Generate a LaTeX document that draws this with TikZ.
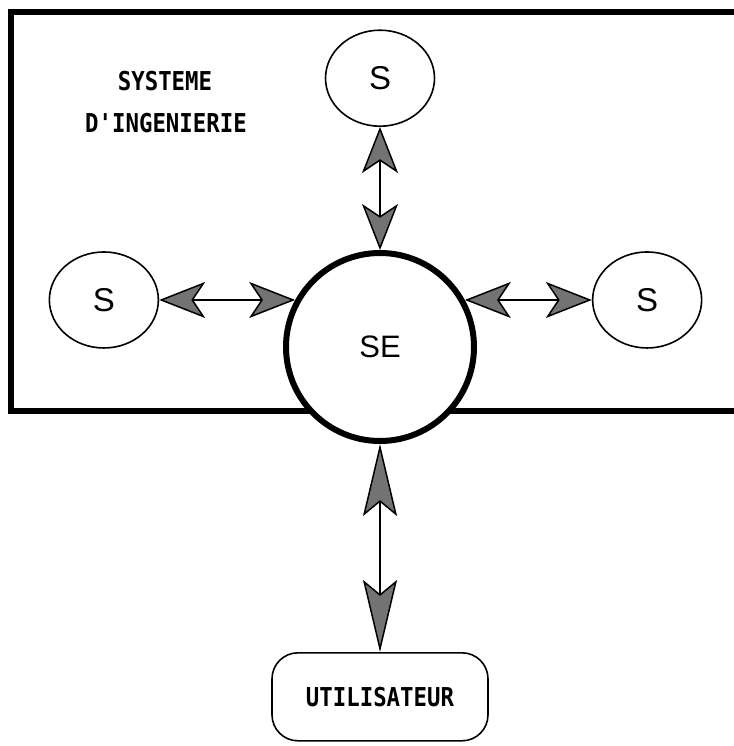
\documentclass[tikz,border=0pt]{standalone}
\usepackage{fontspec}
\usepackage{graphicx}
\setsansfont{Liberation Sans}
\setmonofont{DejaVu Sans Mono}
\usetikzlibrary{shapes, arrows.meta, positioning, calc}

\newcommand{\dotlabel}[1]{\scalebox{0.86}[1]{\fontsize{26}{30}\selectfont\ttfamily\bfseries #1}}

\begin{document}
\begin{tikzpicture}[
        x=1pt, y=-1pt,
        sub/.style={ellipse, draw, line width=1.6pt, minimum width=109pt, minimum height=96pt, inner sep=0pt, font=\sffamily\fontsize{33}{33}\selectfont},
        core/.style={circle, draw, fill=white, line width=6pt, minimum size=188pt, inner sep=0pt, font=\sffamily\fontsize{31}{31}\selectfont},
        userbox/.style={rectangle, rounded corners=26pt, draw, line width=1.6pt, minimum width=216pt, minimum height=88pt},
        frame/.style={line width=6pt},
        link/.style={line width=1.5pt, >={Stealth[length=46pt, width=36pt, inset=12pt, fill=black!55]}, <->},
        longlink/.style={link, >={Stealth[length=72pt, width=34pt, inset=14pt, fill=black!55]}}
    ]
    \useasboundingbox (0,0) rectangle (733,746);

    % Engineering system frame (open to the right)
    \draw[frame] (745,12) -- (11,12) -- (11,411) -- (745,411);

    \node (SysA) at (165,81) {\dotlabel{SYSTEME}};
    \node (SysB) at (166,123) {\dotlabel{D'INGENIERIE}};

    % Central system and its sub-systems
    \node[core] (SE) at (380,347) {SE};
    \node[sub, above=123pt of SE] (STop) {S};
    \node[sub, left=136pt of SE.151] (SLeft) {S};
    \node[sub, right=127pt of SE.29] (SRight) {S};
    \node[userbox, below=208pt of SE] (User) {\dotlabel{UTILISATEUR}};

    \draw[link] (STop) -- (SE);
    \draw[link] (SLeft) -- (SE.151);
    \draw[link] (SE.29) -- (SRight);
    \draw[longlink] (SE) -- (User);

\end{tikzpicture}
\end{document}
